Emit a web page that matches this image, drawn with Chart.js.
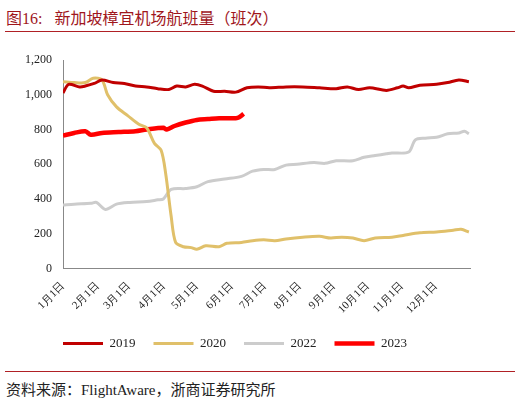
<!DOCTYPE html>
<html><head><meta charset="utf-8">
<script src="https://cdn.jsdelivr.net/npm/chart.js@4/dist/chart.umd.min.js"></script>
<style>
body{margin:0;width:520px;height:404px;background:#fff;position:relative;overflow:hidden;font-family:"Liberation Serif","Noto Sans CJK SC",serif;}
#title{position:absolute;left:6px;top:5px;font-size:16px;color:#A0161C;white-space:pre;}
#l1{position:absolute;left:5px;top:31px;width:510px;height:1px;background:#B02025;}
#l2{position:absolute;left:5px;top:371px;width:510px;height:1px;background:#B02025;}
#src{position:absolute;left:6px;top:378px;font-size:15px;color:#222;}
#wrap{position:absolute;left:0;top:40px;width:520px;height:320px;}
</style></head><body>
<div id="title">图16:   新加坡樟宜机场航班量（班次）</div>
<div id="l1"></div>
<div id="wrap"><canvas id="c" width="520" height="320"></canvas></div>
<div id="l2"></div>
<div id="src">资料来源：FlightAware，浙商证券研究所</div>
<script>
const monthStarts=[0,31,59,90,120,151,181,212,243,273,304,334,365];
const monthLabels=['1月1日','2月1日','3月1日','4月1日','5月1日','6月1日','7月1日','8月1日','9月1日','10月1日','11月1日','12月1日',''];
const d2019=[0,5,15,20,28,35,45,55,65,75,85,95,102,110,118,125,135,145,155,165,175,185,200,215,230,245,255,265,275,290,300,305,310,320,335,345,355,364];
const v2019=[1010,1060,1045,1050,1065,1085,1070,1065,1050,1045,1035,1030,1050,1045,1060,1050,1020,1020,1015,1040,1045,1040,1045,1045,1040,1035,1045,1030,1040,1025,1040,1050,1040,1055,1060,1070,1085,1075];
const d2020=[0,10,20,27,35,40,48,58,68,75,82,88,92,97,101,108,115,120,128,140,147,160,170,180,190,200,215,230,240,250,260,270,280,295,305,320,335,350,357,364];
const v2020=[1075,1070,1070,1095,1085,1000,930,880,830,810,720,680,550,300,150,125,120,110,130,125,145,150,160,165,160,170,180,185,175,180,175,160,175,180,190,205,210,220,225,210];
const d2022=[0,10,25,30,38,48,60,75,85,90,97,110,120,130,145,160,170,180,190,200,210,225,235,245,260,270,280,290,295,310,316,325,335,345,355,360,364];
const v2022=[365,370,375,380,340,370,380,385,395,400,455,460,470,500,515,530,560,570,570,595,600,610,605,620,620,640,650,660,665,670,740,750,755,775,780,790,775];
const d2023=[0,10,20,25,35,50,65,75,90,93,100,110,120,130,140,155,158,162];
const v2023=[765,780,790,770,780,785,790,800,810,800,820,840,855,860,865,865,870,890];
const yTicks=[0,200,400,600,800,1000,1200];
const pts=(d,v)=>d.map((x,i)=>({x:x,y:v[i]}));
const ds=(label,d,v,color,w)=>({label,data:pts(d,v),borderColor:color,backgroundColor:color,borderWidth:w,pointRadius:0,tension:0.3,fill:false});
new Chart(document.getElementById('c'),{
type:'line',
data:{datasets:[
ds('2019',d2019,v2019,'#C00000',3),
ds('2020',d2020,v2020,'#E0C06A',3),
ds('2022',d2022,v2022,'#CCCCCC',3),
ds('2023',d2023,v2023,'#FF0000',4.5)]},
options:{responsive:false,animation:false,
layout:{padding:{left:0,right:50,top:20,bottom:0}},
plugins:{legend:{position:'bottom',labels:{usePointStyle:true,pointStyle:'line',pointStyleWidth:40,boxHeight:4,color:'#222',font:{family:'Liberation Serif',size:13},padding:18}},tooltip:{enabled:false}},
scales:{
x:{type:'linear',min:0,max:365,grid:{display:false,drawTicks:true},border:{color:'#888'},
afterBuildTicks:a=>{a.ticks=monthStarts.map(v=>({value:v}));},
ticks:{autoSkip:false,maxRotation:45,minRotation:45,color:'#222',font:{family:'Liberation Serif',size:11},callback:(v)=>monthLabels[monthStarts.indexOf(v)]}},
y:{min:0,max:1200,grid:{display:false},border:{color:'#888'},
afterBuildTicks:a=>{a.ticks=yTicks.map(v=>({value:v}));},
afterFit:a=>{a.width=63;},
ticks:{color:'#222',font:{family:'Liberation Serif',size:12}}}
}}});
</script>
</body></html>
